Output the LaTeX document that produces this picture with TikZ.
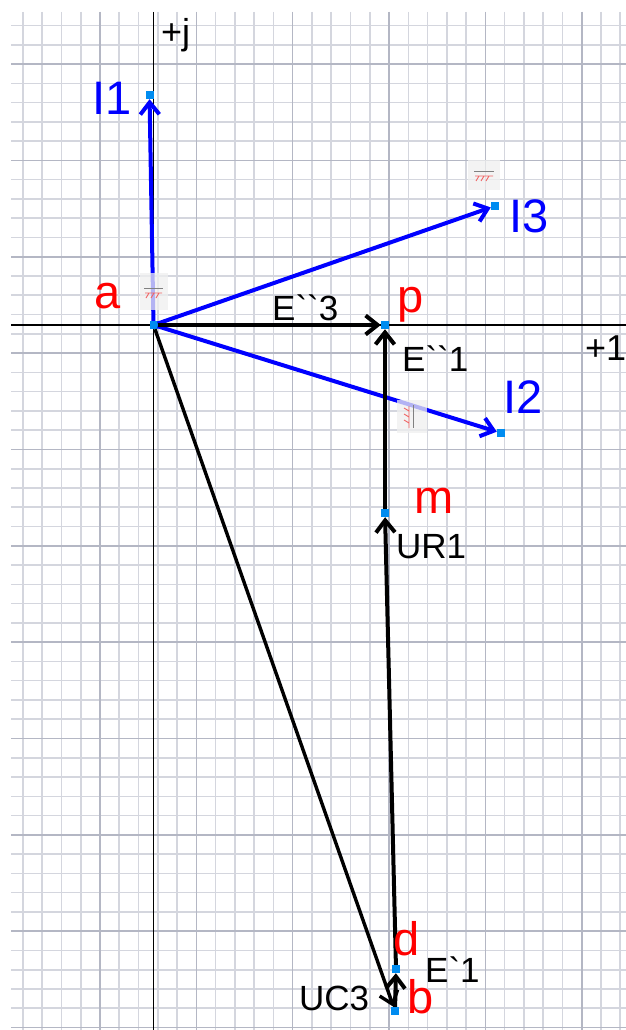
\documentclass[tikz,border=0pt]{standalone}
\usepackage{fontspec}
\usepackage{tikz}
\usetikzlibrary{arrows.meta}
\newfontfamily\labfont{Liberation Sans}
\definecolor{gridminor}{RGB}{212,214,222}
\definecolor{gridmajor}{RGB}{180,183,196}
\definecolor{ptblue}{RGB}{0,140,240}
\definecolor{hatchred}{RGB}{240,100,100}

\begin{document}
\begin{tikzpicture}[x=1pt,y=-1pt,
  vec/.style={line width=4pt,-{Straight Barb[length=12pt,width=19pt]}},
  pt/.style={fill=ptblue,inner sep=0pt,minimum size=8pt},
  lbl/.style={font=\labfont\fontsize{47}{47}\selectfont,anchor=base west,inner sep=0pt},
  vlbl/.style={font=\labfont\fontsize{35}{35}\selectfont,anchor=base west,inner sep=0pt},
  axlbl/.style={font=\labfont\fontsize{36}{36}\selectfont,anchor=base west,inner sep=0pt},
  gnd/.style={fill=gray!12,opacity=0.75}]
  \useasboundingbox[fill=white] (0,0) rectangle (626,1030);
  \foreach \k [evaluate=\k as \gx using 22.9+19.27*\k] in {0,...,31}
    \draw[gridminor,line width=1.6pt] (\gx,12)--(\gx,1030);
  \foreach \k [evaluate=\k as \gy using 25.5+19.27*\k] in {0,...,52}
    \draw[gridminor,line width=1.6pt] (11,\gy)--(626,\gy);
  \foreach \k [evaluate=\k as \gx using 22.9+19.27*\k] in {4,9,...,29}
    \draw[gridmajor,line width=1.6pt] (\gx,12)--(\gx,1030);
  \foreach \k [evaluate=\k as \gy using 25.5+19.27*\k] in {2,7,...,52}
    \draw[gridmajor,line width=1.6pt] (11,\gy)--(626,\gy);
  \draw[line width=1.3pt] (153.3,12)--(153.3,1030);
  \draw[line width=1.3pt] (11,325)--(626,325);

  \node[pt] (a) at (153.5,325) {};
  \node[pt] (t1) at (149.5,95) {};
  \node[pt] (t3) at (495,206) {};
  \node[pt] (t2) at (501,433) {};
  \node[pt] (p) at (385,325) {};
  \node[pt] (m) at (385,513) {};
  \node[pt] (d) at (396,969) {};
  \node[pt] (b) at (395,1011) {};

  \draw[vec,blue] (a)--(t1);
  \draw[vec,blue] (a)--(t3);
  \draw[vec,blue] (a)--(t2);
  \draw[vec] (a)--(p);
  \draw[vec] (m)--(p);
  \draw[vec] (d)--(m);
  \draw[vec] (b)--(d);
  \draw[vec,line width=3.4pt] (a)--(b);

  \fill[gnd] (140,273) rectangle (168,310);
  \draw[gray,line width=1pt] (144,288)--(163,288);
  \draw[hatchred,line width=0.9pt] (145,293)--(162,293) (149,293)--(146,298) (154,293)--(151,298) (159,293)--(156,298);
  \fill[gnd] (468,160) rectangle (500,190);
  \draw[gray,line width=1pt] (474,171)--(494,171);
  \draw[hatchred,line width=0.9pt] (475,176)--(493,176) (479,176)--(476,181) (484,176)--(481,181) (489,176)--(486,181);
  \fill[gnd] (397,400) rectangle (427,433);
  \draw[gray,line width=1pt] (413,405)--(413,428);
  \draw[hatchred,line width=0.9pt] (409,406)--(409,428) (409,411)--(404,408) (409,417)--(404,414) (409,423)--(404,420);

  \node[axlbl] (lj) at (161,45) {+j};
  \node[axlbl] (l1) at (585,360) {+1};
  \node[lbl,blue] (lI1) at (92,115) {I1};
  \node[lbl,blue] (lI3) at (509,232) {I3};
  \node[lbl,blue] (lI2) at (503,413) {I2};
  \node[lbl,red] (la) at (94.5,308) {a};
  \node[lbl,red] (lp) at (397,312) {p};
  \node[lbl,red] (lm) at (414,513) {m};
  \node[lbl,red] (ld) at (393,955) {d};
  \node[lbl,red] (lb) at (407,1013) {b};
  \node[vlbl] (lE3) at (272,320) {E``3};
  \node[vlbl] (lE1) at (402,371) {E``1};
  \node[vlbl] (lUR) at (396,558) {UR1};
  \node[vlbl] (lEb) at (425,982) {E`1};
  \node[vlbl] (lUC) at (299,1010) {UC3};
\end{tikzpicture}
\end{document}
